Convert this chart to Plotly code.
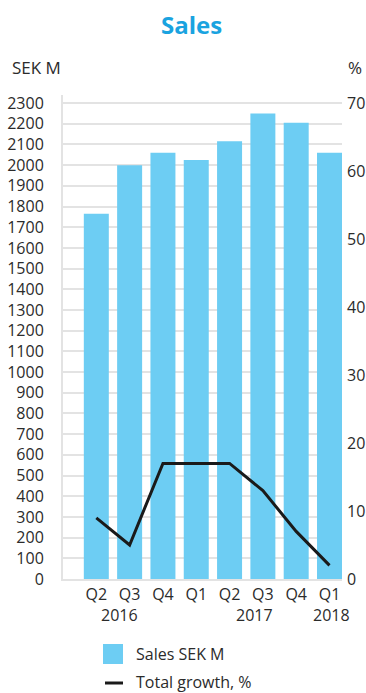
import plotly.graph_objects as go

# ---- data ----
quarters = ["Q2", "Q3", "Q4", "Q1", "Q2", "Q3", "Q4", "Q1"]
sales_sek_m = [1765, 2000, 2060, 2025, 2115, 2250, 2205, 2060]
total_growth_pct = [9, 5, 17, 17, 17, 13, 7, 2]
year_labels = ["2016", "2017", "2018"]
left_ticks = list(range(0, 2301, 100))
right_ticks = list(range(0, 71, 10))
series_names = ["Sales SEK M", "Total growth, %"]

FONT = "Open Sans"
TXT = "#2b2b2b"
BAR = "#6dcdf3"
LINE = "#1a1a1a"
GRID = "#e3e3e3"

x = list(range(len(quarters)))

fig = go.Figure()
fig.add_trace(go.Bar(
    x=x, y=sales_sek_m, name=series_names[0],
    marker=dict(color=BAR, line=dict(width=0)),
    width=0.75, showlegend=False,
))
fig.add_trace(go.Scatter(
    x=x, y=total_growth_pct, name=series_names[1], yaxis="y2",
    mode="lines", line=dict(color=LINE, width=3), showlegend=False,
))

# plot area: x 63..342, y 95..579 px
L, T, PW, PH = 63, 95, 279, 484
ymax = 2339


def px(xp):
    return (xp - L) / PW


def py(yp):
    return 1 - (yp - T) / PH


fig.update_layout(
    width=366, height=693,
    margin=dict(l=63, r=24, t=95, b=114, autoexpand=False),
    paper_bgcolor="white", plot_bgcolor="white",
    font=dict(family=FONT, size=15, color=TXT),
    showlegend=False,
    xaxis=dict(
        range=[-1.0, 7.375],
        tickmode="array", tickvals=x, ticktext=quarters,
        showgrid=False, zeroline=False,
        showline=True, linecolor=GRID, linewidth=2,
        ticks="", tickfont=dict(size=16, color=TXT),
        fixedrange=True,
    ),
    yaxis=dict(
        range=[0, ymax],
        tickmode="array", tickvals=left_ticks,
        showgrid=True, gridcolor=GRID, gridwidth=1.5,
        zeroline=False,
        showline=True, linecolor=GRID, linewidth=2,
        ticks="", ticklabelstandoff=14,
        tickfont=dict(size=16, color=TXT),
    ),
    yaxis2=dict(
        range=[0, 70 * ymax / 2300],
        tickmode="array", tickvals=right_ticks,
        overlaying="y", side="right",
        showgrid=False, zeroline=False, showline=False,
        ticks="", ticklabelstandoff=4,
        tickfont=dict(size=16, color=TXT),
    ),
    bargap=0.25,
)

annotations = [
    dict(text="<b>Sales</b>", xref="paper", yref="paper",
         x=px(191), y=py(25), xanchor="center", yanchor="middle",
         showarrow=False, font=dict(family=FONT, size=24, color="#1aa3e0")),
    dict(text="SEK M", xref="paper", yref="paper",
         x=px(10), y=py(68), xanchor="left", yanchor="middle",
         showarrow=False, font=dict(family=FONT, size=17, color=TXT)),
    dict(text="%", xref="paper", yref="paper",
         x=px(355), y=py(68), xanchor="center", yanchor="middle",
         showarrow=False, font=dict(family=FONT, size=17, color=TXT)),
]
for lbl, xpos in zip(year_labels, [0.71, 4.76, 7.07]):
    annotations.append(dict(
        text=lbl, xref="x", yref="paper", x=xpos, y=py(615),
        xanchor="center", yanchor="middle", showarrow=False,
        font=dict(family=FONT, size=16, color=TXT)))

# legend (drawn manually so the swatch size matches)
for name, ycen in zip(series_names, [654, 682]):
    annotations.append(dict(
        text=name, xref="paper", yref="paper", x=px(134), y=py(ycen),
        xanchor="left", yanchor="middle", showarrow=False,
        font=dict(family=FONT, size=16, color=TXT)))
fig.update_layout(annotations=annotations)

fig.add_shape(type="rect", xref="paper", yref="paper",
              x0=px(103), x1=px(123), y0=py(664), y1=py(644),
              fillcolor=BAR, line=dict(width=0))
fig.add_shape(type="line", xref="paper", yref="paper",
              x0=px(105), x1=px(123), y0=py(683), y1=py(683),
              line=dict(color=LINE, width=3))

fig.write_html(
    "out.html",
    config={"displayModeBar": False},
    post_script="document.body.style.margin='0';document.documentElement.style.overflow='hidden';",
)
